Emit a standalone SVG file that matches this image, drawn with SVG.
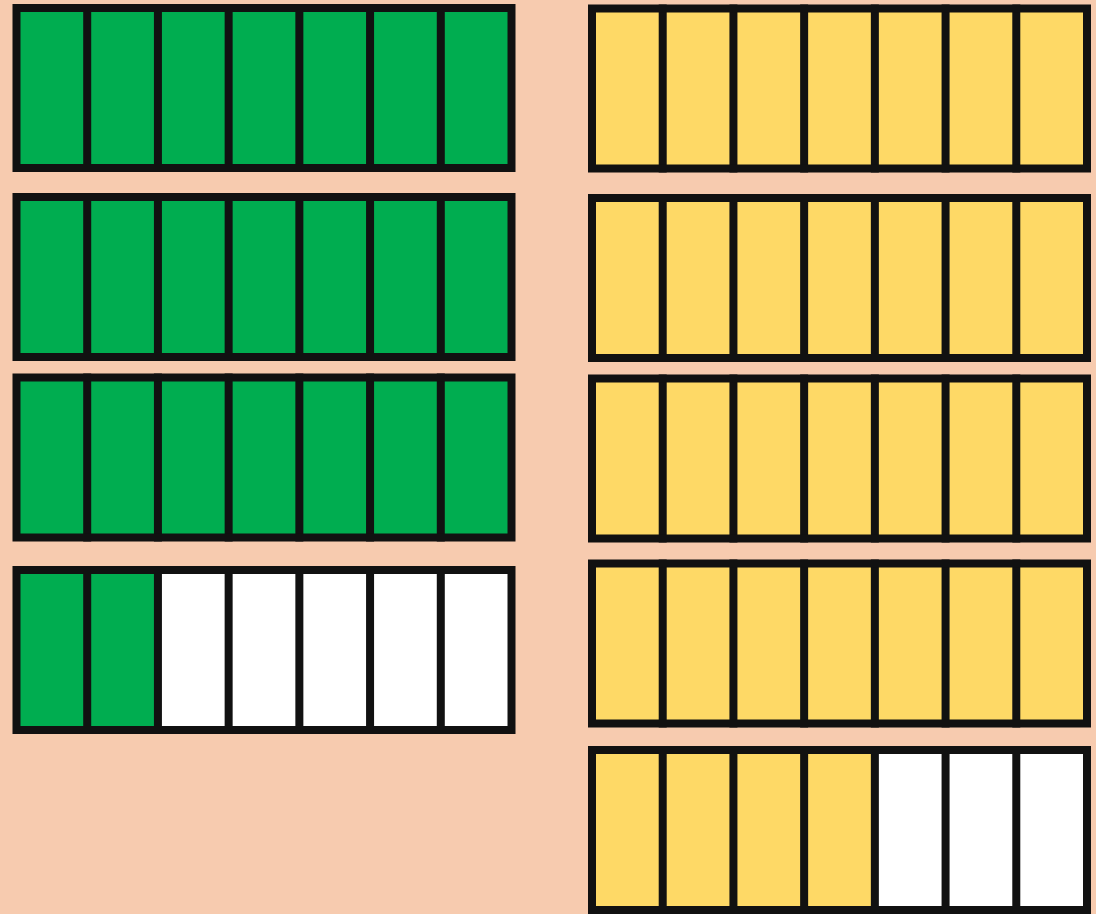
<svg xmlns="http://www.w3.org/2000/svg" width="1096" height="914" viewBox="0 0 1096 914">
<style>
.g{fill:#00AD50}
.y{fill:#FED966}
.w{fill:#FFFFFF}
.o{fill:none;stroke:#111111;stroke-width:8;stroke-linecap:square}
</style>
<defs>
<g id="dividers">
<path class="o" d="M70.71 0V160M141.43 0V160M212.14 0V160M282.86 0V160M353.57 0V160M424.29 0V160"/>
<rect class="o" x="0" y="0" width="495" height="160"/>
</g>
</defs>
<rect width="1096" height="914" fill="#F7CBAF"/>
<g id="left-bar-1" transform="translate(16.5,8)">
<rect class="g" width="495" height="160"/>
<use href="#dividers"/>
</g>
<g id="left-bar-2" transform="translate(16.5,197)">
<rect class="g" width="495" height="160"/>
<use href="#dividers"/>
</g>
<g id="left-bar-3" transform="translate(16.5,377.5)">
<rect class="g" width="495" height="160"/>
<use href="#dividers"/>
</g>
<g id="left-bar-4" transform="translate(16.5,570)">
<rect class="w" width="495" height="160"/>
<rect class="g" width="141.43" height="160"/>
<use href="#dividers"/>
</g>
<g id="right-bar-1" transform="translate(592,8.5)">
<rect class="y" width="495" height="160"/>
<use href="#dividers"/>
</g>
<g id="right-bar-2" transform="translate(592,198)">
<rect class="y" width="495" height="160"/>
<use href="#dividers"/>
</g>
<g id="right-bar-3" transform="translate(592,378.5)">
<rect class="y" width="495" height="160"/>
<use href="#dividers"/>
</g>
<g id="right-bar-4" transform="translate(592,563.5)">
<rect class="y" width="495" height="160"/>
<use href="#dividers"/>
</g>
<g id="right-bar-5" transform="translate(592,750)">
<rect class="w" width="495" height="160"/>
<rect class="y" width="282.86" height="160"/>
<use href="#dividers"/>
</g>
</svg>
